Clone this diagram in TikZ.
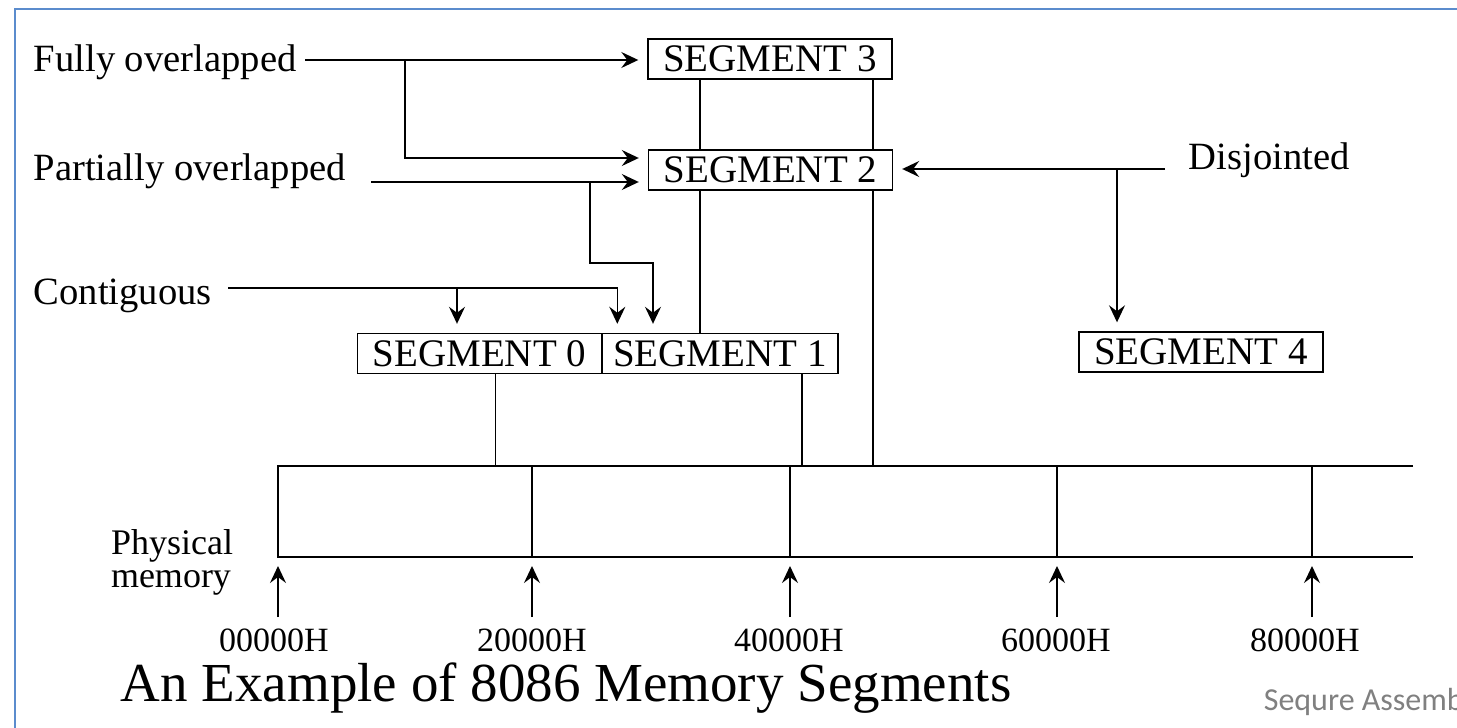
\documentclass[tikz,border=0pt]{standalone}
\usepackage{fontspec}
\setmainfont{Liberation Serif}
\newfontfamily\notefont{Carlito}
\usetikzlibrary{arrows.meta}
\definecolor{framecol}{RGB}{91,140,205}
\definecolor{notegray}{RGB}{128,128,128}
\begin{document}
\begin{tikzpicture}[x=0.5pt, y=-0.5pt, line width=0.8pt,
  lbl/.style={anchor=west, inner sep=0pt, font=\fontsize{19.3}{23}\selectfont},
  segbox/.style={draw, line width=0.7pt, inner sep=0pt, minimum height=20pt,
    minimum width=122pt, font=\fontsize{19.5}{23}\selectfont},
  addr/.style={inner sep=0pt, font=\fontsize{17}{20}\selectfont},
  arr/.style={-{Stealth[length=8.5pt, width=8pt, inset=3pt]}, shorten >=4.5pt}]
  \useasboundingbox (0,0) rectangle (1457,728);
  \clip (0,0) rectangle (1457,728);
  % frame
  \draw[framecol, line width=1pt] (15,730) -- (15,9) -- (1460,9);
  % segments
  \node[segbox] (seg3) at (770,59) {SEGMENT 3};
  \node[segbox] (seg2) at (770.5,170) {SEGMENT 2};
  \node[segbox] (seg0) at (479.5,353.5) {SEGMENT 0};
  \node[segbox, minimum width=118pt] (seg1) at (720,353.5) {SEGMENT 1};
  \node[segbox] (seg4) at (1201,352) {SEGMENT 4};
  % labels
  \node[lbl] (fully) at (33,62) {Fully overlapped};
  \node[lbl] (partial) at (33,171) {Partially overlapped};
  \node[lbl] (contig) at (33,296) {Contiguous};
  \node[lbl] (disj) at (1188,160) {Disjointed};
  \node[inner sep=0pt, align=left, font=\fontsize{18}{16.5}\selectfont] (phys) at (172,562) {Physical\\memory};
  % connector ends
  \coordinate (fs) at (305,60);
  \coordinate (fb) at (405,60);
  \coordinate (ps) at (371,182);
  \coordinate (pb) at (590,182);
  \coordinate (pk) at (653,263);
  \coordinate (cs) at (228,288);
  \coordinate (cb) at (457,288);
  \coordinate (ds) at (1165,169);
  \coordinate (db) at (1117,169);
  % arrows
  \draw[arr] (fs) -- (seg3.west |- fs);
  \draw[arr] (fb) |- ([yshift=6pt]seg2.west);
  \draw[arr] (ps) -- ([yshift=-6pt]seg2.west);
  \draw[arr] (pb) |- (pk) -- (pk |- seg1.north);
  \draw[arr] (cs) -| ([xshift=8pt]seg1.north west);
  \draw[arr] (cb) -- (cb |- seg0.north);
  \draw[arr] (ds) -- (seg2.east |- ds);
  \draw[arr] (db) -- (db |- seg4.north);
  % physical memory
  \coordinate (mt) at (278,466);
  \coordinate (mb) at (278,557);
  \draw (1413,466) -- (mt) -- (mb) -- (1413,557);
  % segment limits
  \coordinate (l3) at (700,0);
  \coordinate (r3) at (873,0);
  \draw (seg3.south -| l3) -- (seg2.north -| l3);
  \draw (seg3.south -| r3) -- (seg2.north -| r3);
  \draw (seg2.south -| l3) -- (seg1.north -| l3);
  \draw (seg2.south -| r3) -- (r3 |- mt);
  \draw ([xshift=8pt]seg0.south) -- ([xshift=8pt]seg0.south |- mt);
  \draw ([xshift=41pt]seg1.south) -- ([xshift=41pt]seg1.south |- mt);
  % addresses
  \foreach \x/\lx/\lab [count=\i] in {278/274/00000H, 532/532/20000H, 790/789/40000H, 1057/1056/60000H, 1312/1305/80000H} {
    \draw (\x,466) -- (\x,557);
    \node[addr] (a\i) at (\lx,640) {\lab};
    \coordinate (t\i) at (\x,617);
    \draw[arr, shorten >=0pt] (t\i) -- (\x,566);
  }
  % caption
  \node[anchor=west, inner sep=0pt, font=\fontsize{27.5}{32}\selectfont] (cap) at (120,688) {An Example of 8086 Memory Segments};
  \node[anchor=west, inner sep=0pt, text=notegray, font=\notefont\fontsize{16}{19}\selectfont] (note) at (1263,702) {Sequre Assemb};
\end{tikzpicture}
\end{document}
